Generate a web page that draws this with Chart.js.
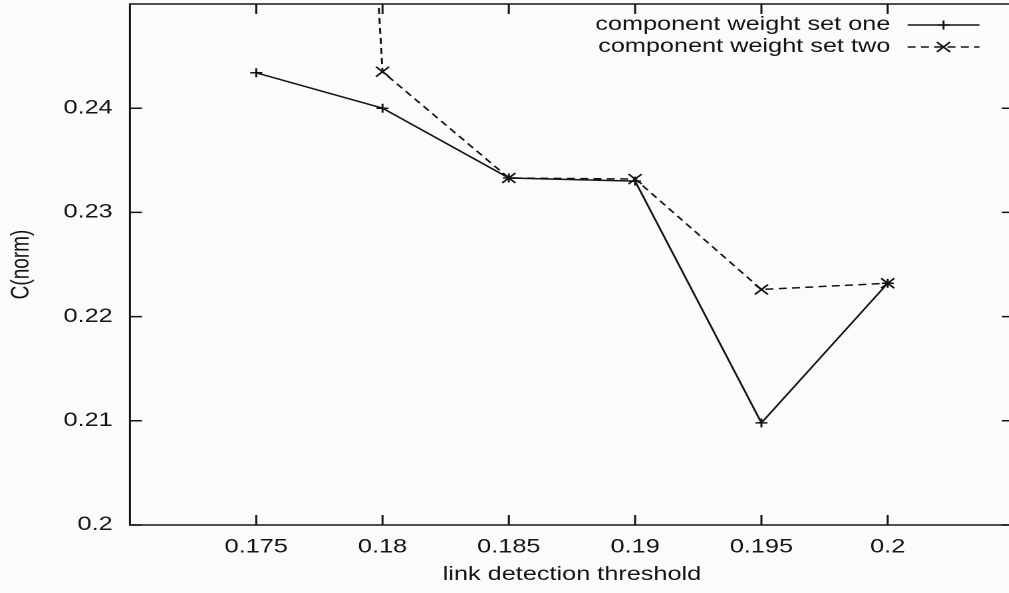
<!DOCTYPE html>
<html>
<head>
<meta charset="utf-8">
<script src="https://cdn.jsdelivr.net/npm/chart.js"></script>
<style>
  html, body { margin: 0; padding: 0; overflow: hidden; background: #fbfbfb; }
  /* the source plot is stretched sideways, so draw narrow and widen it */
  #wrap { width: 766px; height: 593px; transform: scaleX(1.33); transform-origin: 0 0; }
</style>
</head>
<body>
<div id="wrap"><canvas id="chart"></canvas></div>
<script>
// values
const thresholds = [0.175, 0.18, 0.185, 0.19, 0.195, 0.2];
const setOne = [0.2434, 0.2400, 0.2333, 0.2330, 0.2098, 0.2232];
const setTwo = [0.45, 0.2435, 0.2333, 0.2332, 0.2226, 0.2232];
const xTicks = [0.175, 0.18, 0.185, 0.19, 0.195, 0.2];
const yTicks = [0.2, 0.21, 0.22, 0.23, 0.24];
const seriesNames = ['component weight set one', 'component weight set two'];

const ink = '#141414';
const fontFamily = '"Liberation Sans", Arial, Helvetica, sans-serif';

function drawMarker(ctx, style, r, x, y) {
    ctx.beginPath();
    if (style === 'cross') {
        ctx.moveTo(x - r, y); ctx.lineTo(x + r, y);
        ctx.moveTo(x, y - r); ctx.lineTo(x, y + r);
    } else {
        const d = r * Math.SQRT1_2;
        ctx.moveTo(x - d, y - d); ctx.lineTo(x + d, y + d);
        ctx.moveTo(x - d, y + d); ctx.lineTo(x + d, y - d);
    }
    ctx.stroke();
}

// gnuplot style box, inward ticks on all sides and the key
const gnuplotFrame = {
    id: 'gnuplotFrame',
    afterDatasetsDraw(chart) {
        const { ctx, chartArea: a, scales: { x, y } } = chart;
        ctx.save();
        ctx.strokeStyle = ink;
        ctx.lineWidth = 1.5;
        ctx.setLineDash([]);
        ctx.strokeRect(a.left, a.top, a.right - a.left, a.bottom - a.top);

        ctx.beginPath();
        xTicks.forEach(v => {
            const px = x.getPixelForValue(v);
            ctx.moveTo(px, a.bottom); ctx.lineTo(px, a.bottom - 10);
            ctx.moveTo(px, a.top); ctx.lineTo(px, a.top + 10);
        });
        yTicks.forEach(v => {
            const py = y.getPixelForValue(v);
            ctx.moveTo(a.left, py); ctx.lineTo(a.left + 9, py);
            ctx.moveTo(a.right, py); ctx.lineTo(a.right - 9, py);
        });
        ctx.stroke();

        // key
        ctx.font = '19px ' + fontFamily;
        ctx.fillStyle = ink;
        ctx.textAlign = 'right';
        ctx.textBaseline = 'middle';
        chart.data.datasets.forEach((ds, i) => {
            const rowY = a.top + 21 + i * 22;
            ctx.fillText(ds.label, a.right - 93, rowY);
            ctx.lineWidth = 1.5;
            ctx.setLineDash(ds.borderDash || []);
            ctx.beginPath();
            ctx.moveTo(a.right - 80, rowY);
            ctx.lineTo(a.right - 26, rowY);
            ctx.stroke();
            ctx.setLineDash([]);
            drawMarker(ctx, ds.pointStyle, ds.pointRadius, a.right - 53, rowY);
        });
        ctx.restore();
    }
};

const ctx = document.getElementById('chart').getContext('2d');
new Chart(ctx, {
    type: 'line',
    data: {
        datasets: [{
            label: seriesNames[0],
            data: thresholds.map((t, i) => ({ x: t, y: setOne[i] })),
            borderColor: ink,
            borderWidth: 1.5,
            pointStyle: 'cross',
            pointRadius: 4.5,
            pointBorderWidth: 1.5,
            pointBorderColor: ink,
            tension: 0
        }, {
            label: seriesNames[1],
            data: thresholds.map((t, i) => ({ x: t, y: setTwo[i] })),
            borderColor: ink,
            borderWidth: 1.5,
            borderDash: [6, 4],
            pointStyle: 'crossRot',
            pointRadius: 7,
            pointBorderWidth: 1.5,
            pointBorderColor: ink,
            tension: 0
        }]
    },
    options: {
        responsive: true,
        maintainAspectRatio: false,
        animation: false,
        devicePixelRatio: 2,
        layout: { autoPadding: false, padding: { top: 4, right: 3.6, left: 0, bottom: 0 } },
        plugins: { legend: { display: false }, tooltip: { enabled: false } },
        scales: {
            x: {
                type: 'linear',
                min: 0.17,
                max: 0.205,
                afterBuildTicks: scale => { scale.ticks = xTicks.map(v => ({ value: v })); },
                afterFit: scale => {
                    scale.height = 68;
                    scale.paddingLeft = 0;
                    scale.paddingRight = 0;
                },
                grid: { display: false, drawTicks: false },
                border: { display: false },
                ticks: {
                    color: ink,
                    font: { family: fontFamily, size: 19 },
                    padding: 11,
                    maxRotation: 0,
                    callback: v => String(v)
                },
                title: {
                    display: true,
                    text: 'link detection threshold',
                    color: ink,
                    font: { family: fontFamily, size: 19 },
                    padding: { top: 0, bottom: 7 }
                }
            },
            y: {
                min: 0.2,
                max: 0.25,
                afterBuildTicks: scale => { scale.ticks = yTicks.map(v => ({ value: v })); },
                afterFit: scale => {
                    scale.width = 97.7;
                    scale.paddingTop = 0;
                    scale.paddingBottom = 0;
                },
                grid: { display: false, drawTicks: false },
                border: { display: false },
                ticks: {
                    color: ink,
                    font: { family: fontFamily, size: 19 },
                    padding: 13,
                    callback: v => String(v)
                },
                title: {
                    display: true,
                    text: 'C(norm)',
                    color: ink,
                    font: { family: fontFamily, size: 19 },
                    padding: { top: 5, bottom: 0 }
                }
            }
        }
    },
    plugins: [gnuplotFrame]
});
</script>
</body>
</html>
